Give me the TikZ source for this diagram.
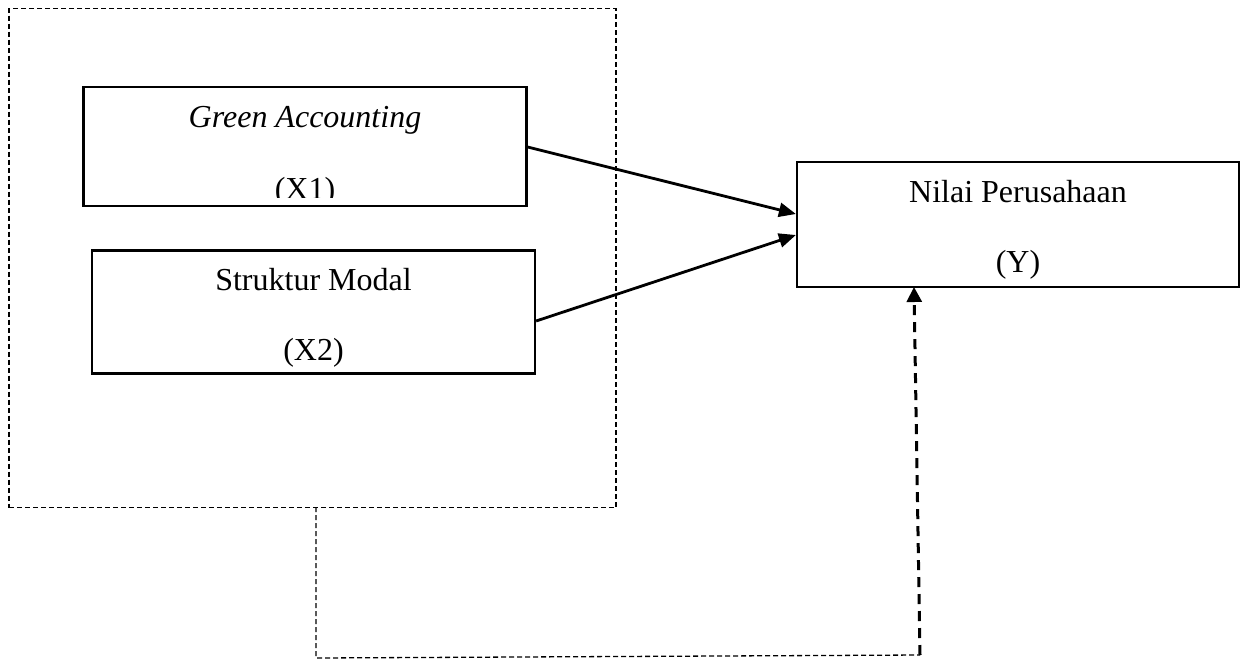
\documentclass[tikz,border=0pt]{standalone}
\usepackage{fontspec}
\setmainfont{Liberation Serif}
\usetikzlibrary{arrows.meta}
\begin{document}
\begin{tikzpicture}[x=1pt,y=-1pt,
  box/.style={draw,line width=2.2pt,rectangle,inner sep=0pt},
  lbl/.style={font=\fontsize{32}{38}\selectfont,inner sep=0pt,anchor=base},
  arr/.style={line width=2.8pt,-{Triangle[length=17pt,width=14pt]}},
  thindash/.style={line width=1.3pt,dash pattern=on 5pt off 3pt},
  thickdash/.style={line width=3pt,dash pattern=on 10pt off 7pt,-{Triangle[length=15pt,width=15pt]}}
  ]
\useasboundingbox (0,0) rectangle (1241,662);
% group box
\node[draw,thindash,minimum width=607pt,minimum height=499pt,inner sep=0pt] (grp) at (312.5,258) {};
% boxes
\node[box,minimum width=443pt,minimum height=119pt] (x1) at (305,146.5) {};
\node[box,minimum width=443pt,minimum height=123pt] (x2) at (313.5,312) {};
\node[box,minimum width=442pt,minimum height=125pt] (y) at (1018,224.5) {};
% texts
\node[lbl] (t1) at (305,127.5) {\itshape Green Accounting};
\begin{scope}
  \clip (84,88) rectangle (526,197);
  \node[lbl] (t1b) at (305,199) {(X1)};
\end{scope}
\node[lbl] (t2) at (313.5,290.5) {Struktur Modal};
\node[lbl] (t2b) at (313.5,360) {(X2)};
\node[lbl] (t3) at (1018,202.5) {Nilai Perusahaan};
\node[lbl] (t3b) at (1018,272) {(Y)};
% arrows
\draw[arr] (x1.east |- 0,147) -- (y.west |- 0,214);
\draw[arr] (x2.east |- 0,321) -- (y.west |- 0,235);
% loop
\coordinate (g0) at (316,507);
\coordinate (g1) at (316,658);
\coordinate (g2) at (920,655);
\coordinate (ya) at (914,287);
\draw[thindash] (g0) -- (g1) -- (g2);
\draw[thickdash] (g2) -- (ya);
\end{tikzpicture}
\end{document}
